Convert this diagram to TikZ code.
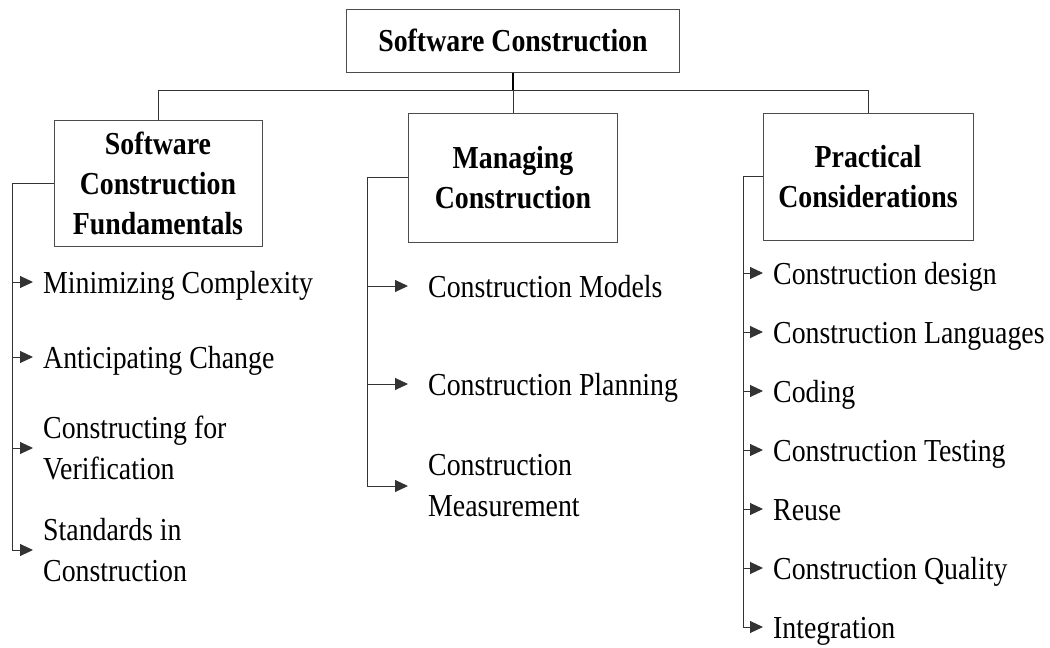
\documentclass[tikz,border=0pt]{standalone}
\usepackage{fontspec}
\setmainfont{Liberation Serif}[FakeStretch=0.87]
\usetikzlibrary{arrows.meta}
\begin{document}
\begin{tikzpicture}[x=1pt,y=-1pt,
  conn/.style={draw=black!80,line width=1pt},
  arr/.style={conn,-{Triangle[length=13pt,width=12pt]}},
  hbox/.style={draw=black!70,line width=1pt,font=\bfseries\fontsize{32}{40}\selectfont,align=center,inner sep=0pt},
  itm/.style={anchor=west,font=\fontsize{32}{41}\selectfont,align=left,inner xsep=10pt,inner ysep=0pt},
  itmone/.style={itm,text height=22pt,text depth=0pt}]
\useasboundingbox (0,0) rectangle (1050,648);
% header boxes
\node[hbox,minimum width=333pt,minimum height=63pt] (top) at (513,40.5) {Software Construction};
\node[hbox,minimum width=208pt,minimum height=126pt] (lbox) at (158,183) {Software\\Construction\\Fundamentals};
\node[hbox,minimum width=209pt,minimum height=129pt] (mbox) at (513,177.5) {Managing\\Construction};
\node[hbox,minimum width=210pt,minimum height=127pt] (rbox) at (868,176.5) {Practical\\Considerations};
% bus
\coordinate (bus) at (0,90);
\draw[black,line width=1.4pt] (top.south) -- (top.south |- bus);
\draw[conn] (top.south |- bus) -- (mbox.north);
\draw[conn] (lbox.north) -- (lbox.north |- bus) -- (rbox.north |- bus) -- (rbox.north);
% left items
\node[itmone] (l1) at (33,282) {Minimizing Complexity};
\node[itmone] (l2) at (33,357) {Anticipating Change};
\node[itm] (l3) at (33,448) {Constructing for\\Verification};
\node[itm] (l4) at (33,550) {Standards in\\Construction};
% middle items
\node[itmone,inner xsep=20pt] (m1) at (408,286) {Construction Models};
\node[itmone,inner xsep=20pt] (m2) at (408,384) {Construction Planning};
\node[itm,inner xsep=20pt] (m3) at (408,486) {Construction\\Measurement};
% right items
\node[itmone] (r1) at (763,273) {Construction design};
\node[itmone] (r2) at (763,332) {Construction Languages};
\node[itmone] (r3) at (763,391) {Coding};
\node[itmone] (r4) at (763,450) {Construction Testing};
\node[itmone] (r5) at (763,509) {Reuse};
\node[itmone] (r6) at (763,568) {Construction Quality};
\node[itmone] (r7) at (763,627) {Integration};
% trunks
\coordinate (lt) at (12,0);
\coordinate (mt) at (367,0);
\coordinate (rt) at (743,0);
\draw[conn] (lbox.west) -| (lt |- l4.west);
\draw[conn] (mbox.west) -| (mt |- m3.west);
\draw[conn] (rbox.west) -| (rt |- r7.west);
\foreach \n in {l1,l2,l3,l4} {\draw[arr] (lt |- \n.west) -- (\n.west);}
\foreach \n in {m1,m2,m3} {\draw[arr] (mt |- \n.west) -- (\n.west);}
\foreach \n in {r1,r2,r3,r4,r5,r6,r7} {\draw[arr] (rt |- \n.west) -- (\n.west);}
\end{tikzpicture}
\end{document}
